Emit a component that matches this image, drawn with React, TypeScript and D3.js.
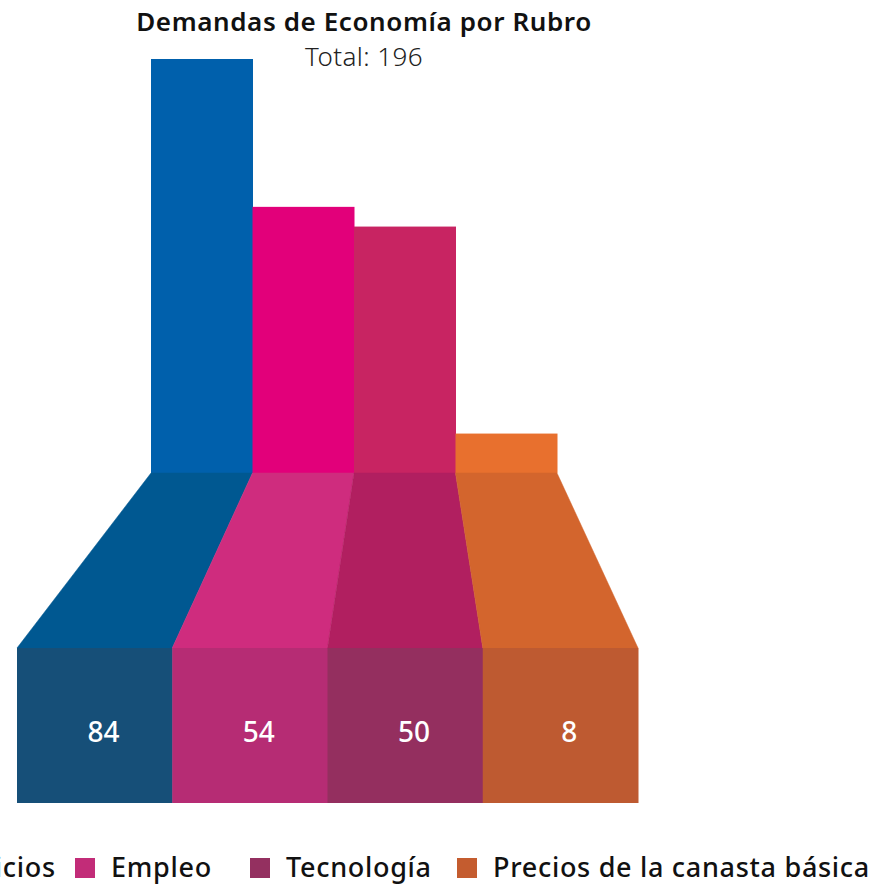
import * as d3 from "d3";
import React from "react";

// data
const categories = ["Servicios", "Empleo", "Tecnología", "Precios de la canasta básica"];
const values = [84, 54, 50, 8];
const total = 196;

// colours: top bar, floor, front face, legend swatch
const topColors = ["#0060ac", "#e2007a", "#c82462", "#e8702e"];
const floorColors = ["#005891", "#cf2c7e", "#b11f60", "#d3652d"];
const frontColors = ["#164f78", "#b62c74", "#942f5f", "#be5a31"];
const legendColors = ["#164f78", "#c22c78", "#943060", "#c45c2f"];

const W = 872;
const H = 884;
const FONT = "'Noto Sans', sans-serif";

const App = () => {
  const xTop = d3.scaleBand().domain(categories).range([151, 557]).padding(0);
  const xFront = d3.scaleBand().domain(categories).range([17, 638]).padding(0);
  const y = d3.scaleLinear().domain([0, 84]).range([473, 59]);

  const baseY = 473;
  const floorY = 648;
  const frontBottom = 803;

  // legend x positions of each swatch
  const legendX = [-100, 75, 250, 457];

  return (
    <svg
      width={W}
      height={H}
      style={{ position: "absolute", left: 0, top: 0 }}
      fontFamily={FONT}
    >
      <rect width={W} height={H} fill="#fff" />
      <text x={364} y={31} textAnchor="middle" fontSize={26} fontWeight={600} letterSpacing={0.6} fill="#111">
        Demandas de Economía por Rubro
      </text>
      <text x={364} y={66} textAnchor="middle" fontSize={26} fontWeight={300} letterSpacing={0.4} fill="#222">
        Total: {total}
      </text>

      {categories.map((c, i) => {
        const x0 = xTop(c)!;
        const x1 = x0 + xTop.bandwidth();
        const f0 = xFront(c)!;
        const f1 = f0 + xFront.bandwidth();
        const floor = d3.path();
        floor.moveTo(x0, baseY);
        floor.lineTo(x1, baseY);
        floor.lineTo(f1, floorY);
        floor.lineTo(f0, floorY);
        floor.closePath();
        return (
          <g key={c}>
            <rect
              x={x0}
              y={y(values[i])}
              width={xTop.bandwidth() + 0.5}
              height={baseY - y(values[i])}
              fill={topColors[i]}
            />
            <path d={floor.toString()} fill={floorColors[i]} stroke={floorColors[i]} strokeWidth={0.5} />
            <rect
              x={f0}
              y={floorY}
              width={xFront.bandwidth() + 0.5}
              height={frontBottom - floorY}
              fill={frontColors[i]}
            />
            <text
              x={(f0 + f1) / 2 + 9}
              y={742}
              textAnchor="middle"
              fontSize={28}
              fontWeight={500}
              fill="#fff"
            >
              {values[i]}
            </text>
          </g>
        );
      })}

      {categories.map((c, i) => (
        <g key={"lg" + c} transform={`translate(${legendX[i]},858)`}>
          <rect x={0} y={0} width={20} height={20} fill={legendColors[i]} />
          <text x={36} y={19} fontSize={27} fontWeight={500} letterSpacing={0.7} fill="#111">
            {c}
          </text>
        </g>
      ))}
    </svg>
  );
};

export default App;
